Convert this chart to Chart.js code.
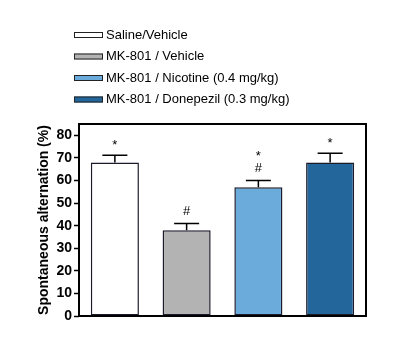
<!DOCTYPE html>
<html>
<head>
<meta charset="utf-8">
<script src="https://cdn.jsdelivr.net/npm/chart.js@4/dist/chart.umd.min.js"></script>
<style>
  html, body { margin: 0; padding: 0; background: #fff; }
  #wrap { width: 400px; height: 350px; }
</style>
</head>
<body>
<div id="wrap"><canvas id="chart" width="400" height="350"></canvas></div>
<script>
const groups = ["Saline/Vehicle", "MK-801 / Vehicle", "MK-801 / Nicotine (0.4 mg/kg)", "MK-801 / Donepezil (0.3 mg/kg)"];
const means = [68, 38, 57, 68];
const errors = [3.2, 3, 3, 4];
const marks = [["*"], ["#"], ["*", "#"], ["*"]];
const colors = ["#ffffff", "#b3b3b3", "#6aabdb", "#22669c"];
const yTicks = [0, 10, 20, 30, 40, 50, 60, 70, 80];

const extras = {
  id: "extras",
  afterDatasetsDraw(chart) {
    const ctx = chart.ctx;
    const x = chart.scales.x;
    const y = chart.scales.y;
    const area = chart.chartArea;
    ctx.save();
    ctx.strokeStyle = "#000";
    ctx.lineWidth = 1.5;
    means.forEach((m, i) => {
      const cx = x.getPixelForValue(i);
      const top = y.getPixelForValue(m + errors[i]);
      ctx.beginPath();
      ctx.moveTo(cx, y.getPixelForValue(m));
      ctx.lineTo(cx, top);
      ctx.moveTo(cx - 12.5, top);
      ctx.lineTo(cx + 12.5, top);
      ctx.stroke();
      ctx.fillStyle = "#000";
      ctx.font = "13px 'Liberation Sans', Arial, sans-serif";
      ctx.textAlign = "center";
      ctx.textBaseline = "middle";
      const list = marks[i];
      list.forEach((s, k) => {
        const off = (list.length - k) * 14 - 2;
        ctx.fillText(s, cx, top - off + (s === "*" ? 2 : 0));
      });
    });
    // frame
    ctx.lineWidth = 2;
    ctx.strokeRect(area.left, area.top, area.right - area.left, area.bottom - area.top);
    // legend
    ctx.font = "13px 'Liberation Sans', Arial, sans-serif";
    ctx.textAlign = "left";
    ctx.textBaseline = "middle";
    groups.forEach((g, i) => {
      const yy = 35 + i * 21.5;
      ctx.fillStyle = colors[i];
      ctx.fillRect(74, yy - 3, 29, 6);
      ctx.lineWidth = 1;
      ctx.strokeStyle = "#222";
      ctx.strokeRect(74.5, yy - 2.5, 28, 5);
      ctx.fillStyle = "#000";
      ctx.fillText(g, 106, yy);
    });
    ctx.restore();
  }
};

new Chart(document.getElementById("chart"), {
  type: "bar",
  data: {
    labels: groups,
    datasets: [{
      data: means,
      backgroundColor: colors,
      borderColor: "#1a1a2a",
      borderWidth: 1.5,
      borderSkipped: false,
      categoryPercentage: 1,
      barPercentage: 0.67
    }]
  },
  options: {
    responsive: false,
    animation: false,
    events: [],
    layout: { padding: { left: 0, top: 124, right: 34, bottom: 34 } },
    plugins: { legend: { display: false }, tooltip: { enabled: false } },
    scales: {
      x: {
        ticks: { display: false },
        grid: { display: false, drawTicks: false },
        border: { display: false },
        afterFit: (s) => { s.height = 0; }
      },
      y: {
        min: 0,
        max: 85,
        afterBuildTicks: (s) => { s.ticks = yTicks.map((v) => ({ value: v })); },
        afterFit: (s) => { s.width = 79; },
        ticks: {
          color: "#000",
          padding: 2,
          font: { family: "'Liberation Sans', Arial, sans-serif", size: 14, weight: "bold" }
        },
        grid: { drawOnChartArea: false, tickLength: 5, tickWidth: 1.5, tickColor: "#000" },
        border: { display: false },
        title: {
          display: true,
          text: "Spontaneous alternation (%)",
          color: "#000",
          padding: { top: 36, bottom: 0 },
          font: { family: "'Liberation Sans', Arial, sans-serif", size: 14, weight: "bold" }
        }
      }
    }
  },
  plugins: [extras]
});
</script>
</body>
</html>
